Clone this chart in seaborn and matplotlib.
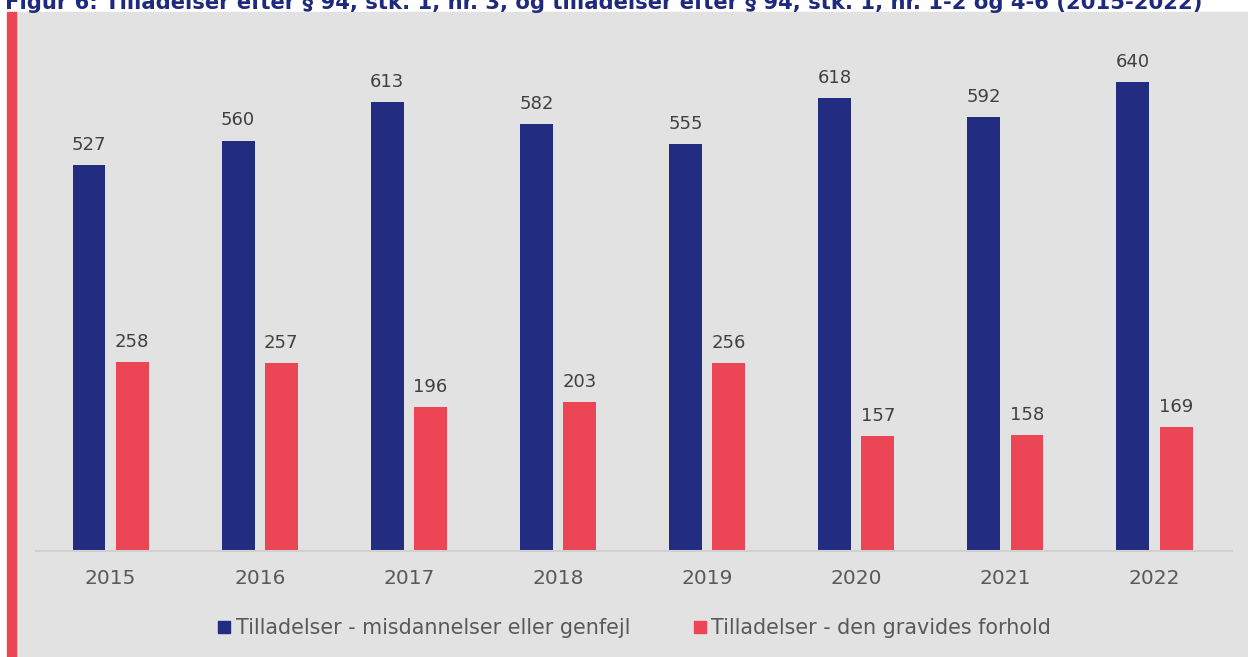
import numpy as np
import pandas as pd
import seaborn as sns
from matplotlib import pyplot as plt
from matplotlib.patches import Rectangle
from matplotlib.lines import Line2D

years = ['2015', '2016', '2017', '2018', '2019', '2020', '2021', '2022']
misdannelser = [527, 560, 613, 582, 555, 618, 592, 640]
gravides = [258, 257, 196, 203, 256, 157, 158, 169]
series_names = ['Tilladelser - misdannelser eller genfejl',
                'Tilladelser - den gravides forhold']
colors = ['#222C80', '#EB4556']
title = ('Figur 6: Tilladelser efter § 94, stk. 1, nr. 3, og tilladelser efter '
         '§ 94, stk. 1, nr. 1-2 og 4-6 (2015-2022)')

df = pd.DataFrame({
    'year': years * 2,
    'value': misdannelser + gravides,
    'series': [series_names[0]] * len(years) + [series_names[1]] * len(years),
})

sns.set_style('white')
plt.rcParams['font.family'] = ['DejaVu Sans']

W, H = 1248, 657
fig = plt.figure(figsize=(W / 100, H / 100), dpi=100, facecolor='white')

# grey panel and red accent strip
fig.patches.append(Rectangle((16 / W, 0), 1 - 16 / W, (H - 12) / H,
                             transform=fig.transFigure, color='#E2E2E2', zorder=-2))
fig.patches.append(Rectangle((7 / W, 0), 9 / W, (H - 12) / H,
                             transform=fig.transFigure, color='#EB4556', zorder=-2))

ax = fig.add_axes([36 / W, 106 / H, 1196 / W, 513 / H])
ax.set_zorder(2)
ax.patch.set_alpha(0)

sns.barplot(data=df, x='year', y='value', hue='series', palette=colors,
            width=0.58, gap=0.24, ax=ax, legend=False, saturation=1,
            linewidth=0)

for cont in ax.containers:
    ax.bar_label(cont, padding=8, fontsize=13, color='#404040')

ax.set_ylim(0, 700)
ax.set_xlim(-0.5, 7.52)
ax.set_xlabel('')
ax.set_ylabel('')
ax.set_yticks([])
for s in ['top', 'right', 'left']:
    ax.spines[s].set_visible(False)
ax.spines['bottom'].set_color('#D0D0D0')
ax.spines['bottom'].set_linewidth(1.5)
ax.tick_params(axis='x', length=0, pad=13, labelsize=14.5, labelcolor='#595959')

handles = [Line2D([], [], marker='s', linestyle='none', markersize=8.6,
                  color=c) for c in colors]
fig.legend(handles, series_names, loc='center', bbox_to_anchor=(0.508, 0.044),
           ncol=2, frameon=False, handlelength=0.7, handletextpad=0.2,
           columnspacing=3.0, fontsize=14.9, labelcolor='#595959')

fig.text(5 / W, (H - 9) / H, title, fontsize=15.2, fontweight='bold',
         color='#1F2A7F', va='baseline', ha='left')

fig.savefig('out.png', dpi=100)
